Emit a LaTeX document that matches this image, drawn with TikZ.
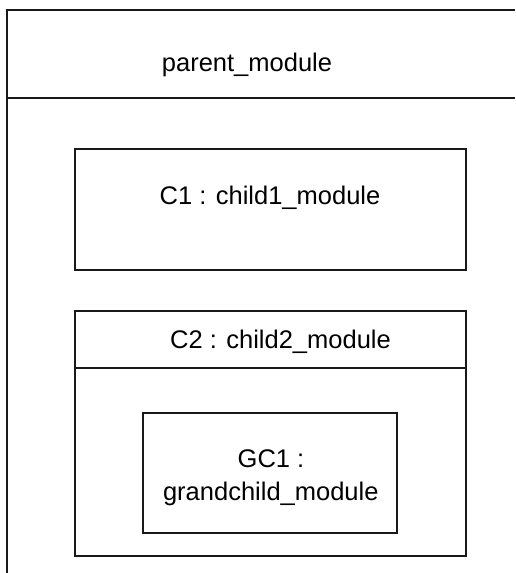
\documentclass[tikz,border=0pt]{standalone}
\usepackage{fontspec}
\setmainfont{Liberation Sans}
\begin{document}
\begin{tikzpicture}[x=1pt,y=-1pt,
  frame/.style={line width=1.5pt,draw=black!90},
  box/.style={draw=black!90,line width=1.4pt,rectangle,inner sep=0pt},
  lbl/.style={anchor=base,inner sep=0pt,font=\fontsize{25.5}{33}\selectfont}]
\useasboundingbox (0,0) rectangle (515,573);
% outer parent module (extends past the picture edges)
\coordinate (pBL) at (7,573);
\coordinate (pTL) at (7,10);
\coordinate (pTR) at (515,10);
\coordinate (pHL) at (7,98);
\coordinate (pHR) at (515,98);
\draw[frame] (pBL) -- (pTL) -- (pTR);
\draw[frame] (pHL) -- (pHR);
\node[lbl] (ptext) at (247,71) {parent\_module};
% child 1
\node[box,minimum width=391pt,minimum height=121pt] (c1) at (270.5,209.5) {};
\node[lbl] (c1text) at (270,204) {C1 : child1\_module};
% child 2
\node[box,minimum width=391pt,minimum height=245pt] (c2) at (270.5,433.5) {};
\coordinate (c2hl) at (75,368);
\coordinate (c2hr) at (466,368);
\draw[draw=black!90,line width=1.4pt] (c2hl) -- (c2hr);
\node[lbl] (c2text) at (280.5,348) {C2 : child2\_module};
% grandchild
\node[box,minimum width=254pt,minimum height=120pt] (gc1) at (270,473) {};
\node[lbl] (gc1a) at (271,467) {GC1 :};
\node[lbl] (gc1b) at (270.8,500) {grandchild\_module};
\end{tikzpicture}
\end{document}
